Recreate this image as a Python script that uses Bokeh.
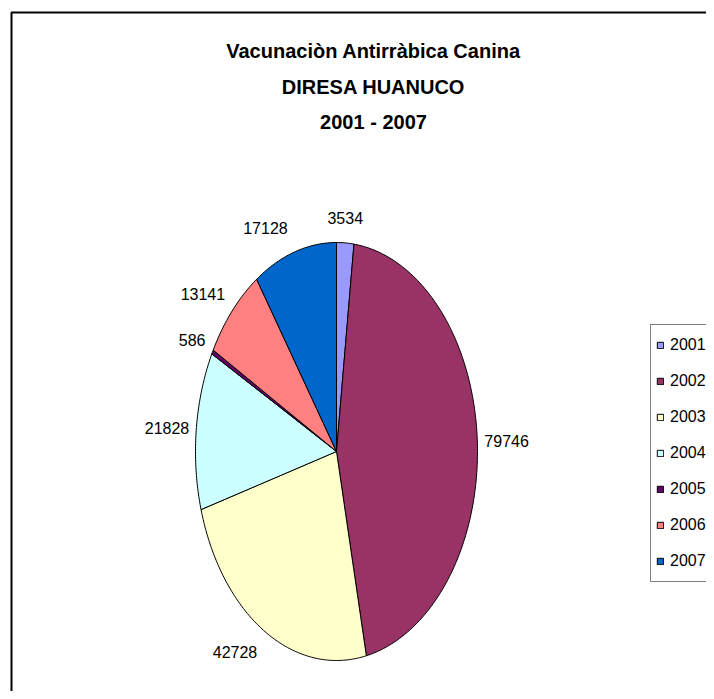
import numpy as np
from bokeh.plotting import figure
from bokeh.models import ColumnDataSource, Range1d, Legend, LegendItem
from bokeh.core.properties import value
from bokeh.embed import file_html
from bokeh.resources import INLINE

# ---- data ----
years = ["2001", "2002", "2003", "2004", "2005", "2006", "2007"]
doses = [3534, 79746, 42728, 21828, 586, 13141, 17128]
colors = ["#9999FF", "#993366", "#FFFFCC", "#CCFFFF", "#660066", "#FF8080", "#0066CC"]
title_lines = ["Vacunaciòn Antirràbica Canina", "DIRESA HUANUCO", "2001 - 2007"]

FONT = "Liberation Sans"
W, H = 706, 691

p = figure(width=W, height=H, x_range=Range1d(0, W), y_range=Range1d(H, 0),
           output_backend="svg", toolbar_location=None, min_border=0,
           x_axis_type=None, y_axis_type=None)
p.grid.visible = False
p.outline_line_color = None
p.background_fill_color = "white"
p.border_fill_color = "white"

# chart area frame (extends beyond the visible area on right/bottom)
p.quad(left=[11], right=[2000], top=[12], bottom=[2000], fill_color=None,
       line_color="black", line_width=2)

# ---- pie (elliptical) ----
cx, cy, rx, ry = 336, 451, 141, 209
vals = np.array(doses, dtype=float)
frac = vals / vals.sum()
ends = np.cumsum(frac) * 2 * np.pi
starts = ends - frac * 2 * np.pi
xs, ys = [], []
for a0, a1 in zip(starts, ends):
    t = np.linspace(a0, a1, max(4, int((a1 - a0) * 80)))
    xs.append([cx] + list(cx + rx * np.sin(t)))
    ys.append([cy] + list(cy - ry * np.cos(t)))
src = ColumnDataSource(dict(xs=xs, ys=ys, color=colors, year=years))
r = p.patches("xs", "ys", source=src, fill_color="color", line_color="black", line_width=1)

# ---- data labels ----
mid = (starts + ends) / 2
s, c = np.sin(mid), np.cos(mid)
px = cx + rx * s
py = cy - ry * c
align = ["left" if v > 0.2 else ("right" if v < -0.2 else "center") for v in s]
lx = px + np.where(np.abs(s) > 0.2, np.sign(s) * 7, 0)
ly = py - c * 25
lsrc = ColumnDataSource(dict(x=lx, y=ly, text=[str(v) for v in doses], align=align))
p.text(x="x", y="y", text="text", source=lsrc, text_align="align", text_baseline="middle",
       text_font=value(FONT), text_font_size="16px", text_color="black")

# ---- title ----
p.text(x=[373] * 3, y=[50, 86, 121], text=title_lines, text_align="center",
       text_baseline="middle", text_font=value(FONT), text_font_style="bold",
       text_font_size="20px", text_color="black")

# ---- legend ----
items = [LegendItem(label=years[i], renderers=[r], index=i) for i in range(len(years))]
legend = Legend(items=items, location=(650, 109), margin=0, padding=5, spacing=6,
                glyph_width=8, glyph_height=8, label_height=30, label_standoff=6,
                label_text_font=FONT, label_text_font_size="16px",
                label_text_color="black",
                border_line_color="black", border_line_width=1,
                background_fill_color="white", background_fill_alpha=1.0)
p.add_layout(legend)

open("out.html", "w").write(file_html(p, INLINE))
